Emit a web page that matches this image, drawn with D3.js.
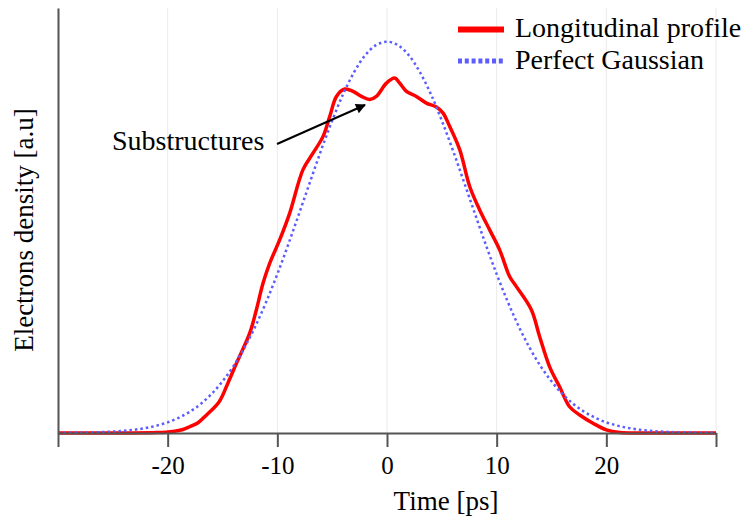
<!DOCTYPE html>
<html>
<head>
<meta charset="utf-8">
<script src="https://cdn.jsdelivr.net/npm/d3@7"></script>
<style>
  body { margin: 0; background: #fff; }
  text { font-family: "Liberation Serif", "DejaVu Serif", serif; fill: #000; }
</style>
</head>
<body>
<div id="vis"></div>
<script>
var width = 745,
    height = 519;

// measured longitudinal profile (time in ps, density normalised to the gaussian peak)
var profileTime = [-30, -24, -21, -19.5, -18.6, -18, -17.2, -16.5, -15.3, -14.5, -13.73, -12.52, -11.91,
  -11.3, -10.69, -9.78, -8.87, -7.66, -6.75, -5.83, -5.22, -4.61, -3.86, -3.1, -2.33, -1.58, -0.97,
  -0.05, 0.7, 1.16, 1.77, 2.68, 3.59, 4.5, 5.1, 5.72, 6.63, 7.54, 8.45, 9.36, 10.27, 11.18, 11.8,
  13.16, 13.92, 14.83, 15.74, 16.65, 17.57, 18.78, 20, 21.2, 24, 30];
var profileValue = [0, 0, 0.001, 0.004, 0.009, 0.016, 0.027, 0.045, 0.08, 0.128, 0.178, 0.255, 0.315,
  0.383, 0.434, 0.494, 0.562, 0.673, 0.715, 0.758, 0.809, 0.86, 0.879, 0.873, 0.86, 0.852, 0.86,
  0.894, 0.907, 0.894, 0.873, 0.86, 0.843, 0.833, 0.818, 0.783, 0.724, 0.63, 0.57, 0.519, 0.468, 0.4, 0.374,
  0.315, 0.246, 0.169, 0.118, 0.067, 0.046, 0.025, 0.008, 0.001, 0, 0];

// perfect gaussian read at every ps
var gaussTime = d3.range(-30, 31);
var gaussValue = [0.0003, 0.0005, 0.0009, 0.0014, 0.0023, 0.0036, 0.0056, 0.0085, 0.0128, 0.0188,
  0.0272, 0.0387, 0.054, 0.074, 0.0997, 0.132, 0.171, 0.218, 0.273, 0.336, 0.406, 0.482, 0.562,
  0.643, 0.723, 0.798, 0.866, 0.922, 0.965, 0.991, 1,
  0.991, 0.965, 0.922, 0.866, 0.798, 0.723, 0.643, 0.562, 0.482, 0.406, 0.336, 0.273, 0.218, 0.171,
  0.132, 0.0997, 0.074, 0.054, 0.0387, 0.0272, 0.0188, 0.0128, 0.0085, 0.0056, 0.0036, 0.0023,
  0.0014, 0.0009, 0.0005, 0.0003];

var xTicks = [-30, -20, -10, 0, 10, 20, 30];
var seriesNames = ["Longitudinal profile", "Perfect Gaussian"];

var margin = {top: 8, right: 29, bottom: 86, left: 58};

var svg = d3.select('#vis').append('svg')
    .attr("width", width)
    .attr("height", height);

var x = d3.scaleLinear().domain([-30, 30]).range([margin.left, width - margin.right]);
var y = d3.scaleLinear().domain([0, 1.086]).range([height - margin.bottom, margin.top]);

var defs = svg.append("defs");
defs.append("marker")
    .attr("id", "arrow")
    .attr("viewBox", "0 0 10 10")
    .attr("refX", 9).attr("refY", 5)
    .attr("markerWidth", 6).attr("markerHeight", 5)
    .attr("markerUnits", "strokeWidth")
    .attr("orient", "auto")
  .append("path")
    .attr("d", "M0,0L10,5L0,10Z")
    .attr("fill", "#000");

// faint vertical grid
svg.append("g").selectAll("line")
    .data(xTicks)
    .enter().append("line")
    .attr("x1", d => x(d)).attr("x2", d => x(d))
    .attr("y1", y.range()[1]).attr("y2", y.range()[0])
    .attr("stroke", "#ebebeb")
    .attr("stroke-width", 1);

var smooth = d3.line().curve(d3.curveCatmullRom.alpha(0.5));

var gaussPts = gaussTime.map((t, i) => [x(t), y(gaussValue[i])]);
var profPts = profileTime.map((t, i) => [x(t), y(profileValue[i])]);

svg.append("path")
    .attr("d", smooth(profPts))
    .attr("fill", "none")
    .attr("stroke", "#ff0000")
    .attr("stroke-width", 3.5)
    .attr("stroke-linejoin", "round");

svg.append("path")
    .attr("d", smooth(gaussPts))
    .attr("fill", "none")
    .attr("stroke", "#5c5cff")
    .attr("stroke-width", 2.5)
    .attr("stroke-dasharray", "2.5,3");

// axes
var xAxis = svg.append("g")
    .attr("transform", "translate(0," + y(0) + ")")
    .call(d3.axisBottom(x)
        .tickValues(xTicks)
        .tickSize(14)
        .tickSizeOuter(0)
        .tickPadding(9)
        .tickFormat(d => Math.abs(d) === 30 ? "" : String(d)));

var yAxis = svg.append("g")
    .attr("transform", "translate(" + margin.left + ",0)")
    .call(d3.axisLeft(y).tickValues([]).tickSizeOuter(0));

svg.selectAll(".domain, .tick line")
    .attr("stroke", "#555")
    .attr("stroke-width", 2);

xAxis.selectAll("text")
    .attr("font-family", null)
    .style("font-size", "25px")
    .attr("fill", "#000");

svg.append("text")
    .attr("x", 446).attr("y", 510)
    .attr("text-anchor", "middle")
    .style("font-size", "27px")
    .text("Time [ps]");

svg.append("text")
    .attr("transform", "translate(33,230) rotate(-90)")
    .attr("text-anchor", "middle")
    .style("font-size", "27px")
    .text("Electrons density [a.u]");

// annotation
svg.append("text")
    .attr("x", 112).attr("y", 150)
    .style("font-size", "28px")
    .text("Substructures");

svg.append("line")
    .attr("x1", 277).attr("y1", 144)
    .attr("x2", 365).attr("y2", 105)
    .attr("stroke", "#000")
    .attr("stroke-width", 2)
    .attr("marker-end", "url(#arrow)");

// legend
var legend = svg.append("g").attr("transform", "translate(458,0)");
legend.append("line")
    .attr("x1", 0).attr("x2", 46).attr("y1", 29.5).attr("y2", 29.5)
    .attr("stroke", "#ff0000").attr("stroke-width", 6);
legend.append("line")
    .attr("x1", 0).attr("x2", 46).attr("y1", 61).attr("y2", 61)
    .attr("stroke", "#5c5cff").attr("stroke-width", 5)
    .attr("stroke-dasharray", "4,2.8");
legend.selectAll("text.lg")
    .data(seriesNames)
    .enter().append("text")
    .attr("class", "lg")
    .attr("x", 57)
    .attr("y", (d, i) => 37 + i * 31.5)
    .style("font-size", "28px")
    .text(d => d);
</script>
</body>
</html>
